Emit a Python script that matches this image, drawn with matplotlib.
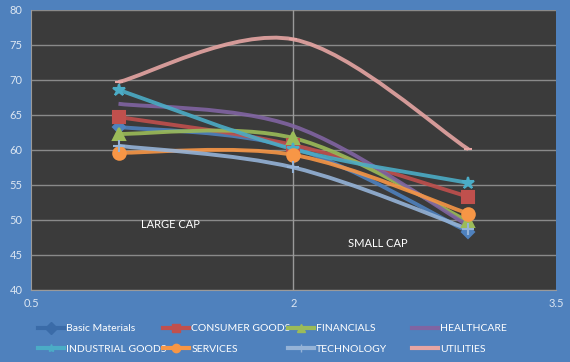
import matplotlib.pyplot as plt
from matplotlib.path import Path
from matplotlib.patches import PathPatch
from matplotlib.lines import Line2D

# ================== DADOS ==================
x = [1, 2, 3]
series = ["Basic Materials", "CONSUMER GOODS", "FINANCIALS", "HEALTHCARE",
          "INDUSTRIAL GOODS", "SERVICES", "TECHNOLOGY", "UTILITIES"]
basic_materials = [63.3, 60.3, 48.3]
consumer_goods = [64.7, 60.7, 53.3]
financials = [62.3, 61.7, 49.8]
healthcare = [66.6, 63.4, 49.2]
industrial_goods = [68.6, 60.1, 55.3]
services = [59.6, 59.3, 50.9]
technology = [60.6, 57.5, 48.7]
utilities = [69.7, 75.8, 60.1]

valores = [basic_materials, consumer_goods, financials, healthcare,
           industrial_goods, services, technology, utilities]
cores = ["#4F81BD", "#C0504D", "#9BBB59", "#8064A2",
         "#4BACC6", "#F79646", "#95B3D7", "#E6A5A3"]
marcadores = ["D", "s", "^", "None", "*", "o", "+", "_"]
tam_marc = [6, 9, 9, 0, 9, 9, 8, 6]

xticks = [0.5, 2, 3.5]
yticks = [40, 45, 50, 55, 60, 65, 70, 75, 80]


def curva_suave(xs, ys):
    # curva bezier no estilo das linhas suavizadas do Excel
    pts = list(zip(xs, ys))
    verts = [pts[0]]
    codes = [Path.MOVETO]
    n = len(pts)
    for i in range(n - 1):
        p0 = pts[i - 1] if i > 0 else pts[i]
        p1 = pts[i]
        p2 = pts[i + 1]
        p3 = pts[i + 2] if i + 2 < n else pts[i + 1]
        c1 = (p1[0] + (p2[0] - p0[0]) / 6, p1[1] + (p2[1] - p0[1]) / 6)
        c2 = (p2[0] - (p3[0] - p1[0]) / 6, p2[1] - (p3[1] - p1[1]) / 6)
        verts += [c1, c2, p2]
        codes += [Path.CURVE4] * 3
    return Path(verts, codes)


plt.rcParams["font.family"] = ["Lato", "DejaVu Sans"]

fig = plt.figure(figsize=(5.7, 3.62), dpi=100)
fig.patch.set_facecolor("#4F81BD")
ax = fig.add_axes([0.0544, 0.199, 0.921, 0.7734])
ax.set_facecolor("#3B3B3B")

for v, c, m, ms in zip(valores, cores, marcadores, tam_marc):
    ax.add_patch(PathPatch(curva_suave(x, v), facecolor="none", edgecolor=c,
                           lw=2.8, alpha=0.9, zorder=3))
    if m != "None":
        ax.plot(x, v, linestyle="none", marker=m, color=c, markersize=ms,
                markeredgecolor=c, markeredgewidth=1.5, zorder=4)

ax.set_xlim(0.5, 3.5)
ax.set_ylim(40, 80)
ax.set_xticks(xticks)
ax.set_xticklabels(["0.5", "2", "3.5"])
ax.set_yticks(yticks)
ax.yaxis.grid(True, color="#8A8A8A", lw=1)
ax.axvline(2, color="#9A9A9A", lw=1, zorder=1)
ax.set_axisbelow(True)
for s in ["top", "right"]:
    ax.spines[s].set_visible(False)
for s in ["left", "bottom"]:
    ax.spines[s].set_color("#9A9A9A")
ax.tick_params(length=0, colors="#DCE6F2", labelsize=8, pad=6)

ax.text(1.13, 49.3, "LARGE CAP", color="white", fontsize=8, va="center")
ax.text(2.31, 46.6, "SMALL CAP", color="white", fontsize=8, va="center")

handles = []
for nome, c, m, ms in zip(series, cores, marcadores, tam_marc):
    cor_leg = "#3A6BA8" if nome == "Basic Materials" else c
    handles.append(Line2D([], [], color=cor_leg, lw=3, marker=m,
                          markersize=min(ms, 6), label=nome))

# legenda em 4 colunas de largura fixa
col_x = [0.0667, 0.286, 0.505, 0.723]
for j, cx in enumerate(col_x):
    leg = fig.legend(handles=[handles[j], handles[j + 4]], loc="lower left",
                     bbox_to_anchor=(cx, 0.022), frameon=False,
                     fontsize=7.5, handlelength=2.5, handletextpad=0.2,
                     labelspacing=1.1, borderpad=0, borderaxespad=0)
    for t in leg.get_texts():
        t.set_color("white")

plt.savefig("out.png", dpi=100, facecolor=fig.get_facecolor())
plt.close()
